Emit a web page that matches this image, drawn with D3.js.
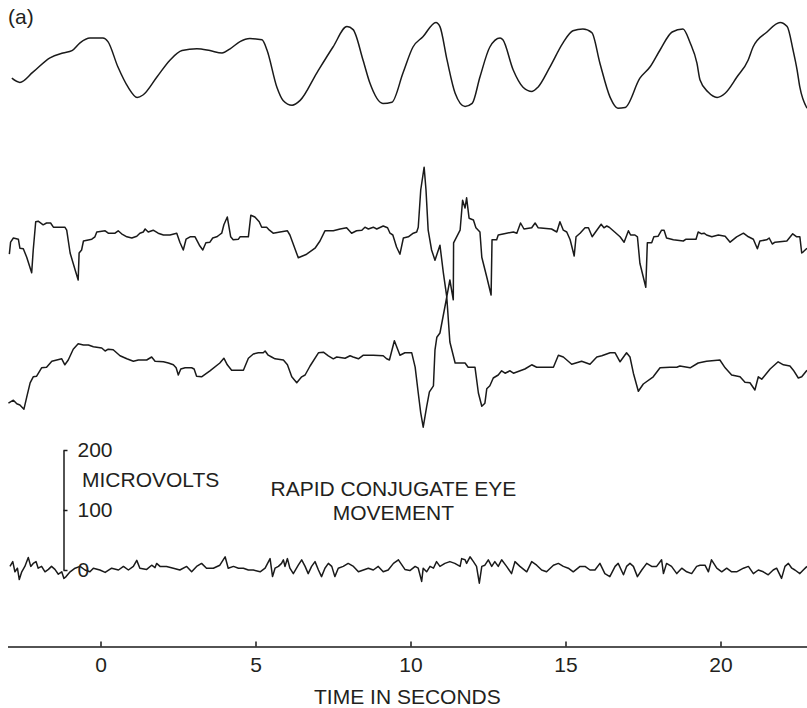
<!DOCTYPE html>
<html>
<head>
<meta charset="utf-8">
<script src="https://cdn.jsdelivr.net/npm/d3@7"></script>
<style>
  body { margin: 0; background: #fff; }
  svg { display: block; font-family: "Liberation Sans", Arial, sans-serif; }
  text { fill: #231f20; }
</style>
</head>
<body>
<div id="chart"></div>
<script>
"use strict";

// Each trace: [time in seconds, microvolts relative to the trace baseline]
const respiration = [
    [-2.86, -22], [-2.60, -29], [-2.18, -12], [-1.63, 12], [-1.21, 20], [-0.92, 24], [-0.66, 37],
    [-0.34, 45], [0.08, 45], [0.24, 39], [0.56, -3], [0.89, -37], [1.18, -54], [1.37, -50],
    [1.82, -20], [2.24, 8], [2.63, 24], [3.11, 27], [3.53, 24], [3.92, 20], [4.18, 27], [4.50, 39],
    [4.82, 44], [5.21, 42], [5.37, 25], [5.69, -37], [5.89, -59], [6.18, -67], [6.44, -59],
    [6.98, -13], [7.50, 30], [7.95, 64], [8.15, 59], [8.47, 8], [8.69, -30], [9.11, -64],
    [9.40, -62], [9.76, -13], [10.08, 30], [10.40, 47], [10.82, 71], [10.95, 64], [11.18, 8],
    [11.44, -47], [11.76, -69], [11.99, -64], [12.24, -20], [12.56, 30], [12.89, 45], [12.98, 42],
    [13.31, -8], [13.63, -37], [13.92, -44], [14.11, -37], [14.50, -3], [14.92, 37], [15.24, 57],
    [15.56, 60], [15.85, 54], [16.11, 3], [16.44, -54], [16.69, -72], [16.92, -71], [17.40, -22],
    [17.73, -3], [18.05, 25], [18.44, 55], [18.79, 60], [19.02, 37], [19.24, 3], [19.34, -25],
    [19.60, -45], [19.89, -54], [20.15, -47], [20.53, -20], [20.89, 8], [21.05, 30], [21.50, 55],
    [21.92, 71], [22.15, 64], [22.34, 25], [22.47, -8], [22.56, -37], [22.79, -72]
];

const eogLeft = [
    [-2.94, -32], [-2.90, -12], [-2.81, -5], [-2.65, -7], [-2.60, -22], [-2.49, -23], [-2.38, -37],
    [-2.22, -63], [-2.17, -25], [-2.09, 22], [-2.01, 23], [-1.85, 17], [-1.74, 20], [-1.61, 20],
    [-1.52, 13], [-1.15, 13], [-1.09, 8], [-0.98, -30], [-0.82, -58], [-0.72, -75], [-0.69, -30],
    [-0.61, -25], [-0.55, -10], [-0.28, -7], [-0.18, -3], [-0.12, 5], [0.15, 7], [0.25, 3],
    [0.47, 3], [0.57, 7], [0.68, 2], [0.85, -3], [1.01, -5], [1.17, -2], [1.27, 3], [1.38, 5],
    [1.44, 10], [1.54, 5], [1.70, 8], [1.86, 3], [2.03, 0], [2.24, 0], [2.46, 3], [2.56, -12],
    [2.67, -25], [2.76, -7], [2.89, -3], [3.05, -3], [3.19, -17], [3.30, -25], [3.40, -13],
    [3.53, -12], [3.62, -5], [3.75, -3], [3.83, 0], [3.91, 3], [3.98, 17], [4.09, 30], [4.20, -3],
    [4.28, -8], [4.45, -7], [4.50, -3], [4.77, -3], [4.85, 33], [4.98, 30], [5.12, 22], [5.20, 13],
    [5.36, 13], [5.45, 8], [5.57, 3], [5.79, 5], [6.03, 7], [6.11, 0], [6.38, -38], [6.65, -32],
    [6.92, -22], [7.08, -10], [7.24, 7], [7.51, 7], [7.73, 10], [7.94, 12], [8.10, 3], [8.26, 7],
    [8.43, 8], [8.53, 13], [8.64, 10], [8.80, 13], [8.91, 10], [9.12, 15], [9.26, 12], [9.34, 3],
    [9.43, 0], [9.55, -20], [9.66, -32], [9.77, -5], [9.93, -3], [10.09, 3], [10.20, 5],
    [10.25, 13], [10.33, 75], [10.44, 113], [10.50, 75], [10.57, 8], [10.68, -25], [10.79, -42],
    [10.95, -17], [11.06, -63], [11.17, -103], [11.27, -75], [11.38, -108], [11.39, -13],
    [11.60, 8], [11.68, 58], [11.76, 45], [11.81, 62], [11.89, 28], [12.03, 25], [12.11, 12],
    [12.24, 5], [12.30, -37], [12.46, -70], [12.60, -100], [12.63, -8], [12.78, -8], [12.83, 0],
    [13.10, 3], [13.32, 5], [13.43, 3], [13.55, 20], [13.66, 10], [13.91, 12], [14.02, 20],
    [14.12, 12], [14.55, 10], [14.72, 5], [14.82, 22], [14.93, 8], [15.04, 5], [15.15, -8],
    [15.28, -35], [15.34, -3], [15.47, 3], [15.63, 12], [15.74, 12], [15.86, -3], [16.01, 8],
    [16.15, 18], [16.24, 12], [16.33, 15], [16.41, 13], [16.54, 7], [16.76, -3], [16.89, -12],
    [17.03, 7], [17.10, 0], [17.24, 0], [17.32, -3], [17.40, -47], [17.59, -87], [17.64, -13],
    [17.78, -13], [17.85, -3], [17.99, -2], [18.10, 8], [18.18, 8], [18.26, -5], [18.48, -8],
    [18.80, -10], [18.89, -7], [19.21, -7], [19.28, 5], [19.39, 2], [19.47, 3], [19.55, 0],
    [19.72, -3], [19.93, 0], [20.15, -2], [20.31, -12], [20.52, -3], [20.74, 3], [20.90, -3],
    [21.06, -7], [21.19, -23], [21.27, -10], [21.49, -8], [21.57, -5], [21.67, -15], [21.76, -12],
    [22.14, -10], [22.33, 2], [22.46, -3], [22.56, -3], [22.62, -30], [22.67, -28], [22.79, -22]
];

const eogRight = [
    [-2.97, -72], [-2.81, -67], [-2.70, -73], [-2.60, -75], [-2.47, -82], [-2.38, -62], [-2.27, -38],
    [-2.17, -28], [-2.06, -27], [-1.90, -13], [-1.74, -12], [-1.57, -2], [-1.41, 0], [-1.25, 2],
    [-1.15, -8], [-1.04, 0], [-0.88, 18], [-0.72, 27], [-0.55, 25], [-0.39, 25], [-0.23, 22],
    [0.04, 20], [0.15, 15], [0.25, 18], [0.41, 17], [0.63, 7], [0.85, 2], [1.06, -2], [1.22, 0],
    [1.49, 0], [1.65, 5], [1.76, -2], [2.03, -3], [2.19, -5], [2.35, -8], [2.44, -13], [2.51, -25],
    [2.59, -15], [2.73, -13], [2.94, -13], [3.02, -15], [3.10, -27], [3.26, -28], [3.53, -18],
    [3.85, -5], [3.98, 3], [4.09, -8], [4.23, -17], [4.61, -17], [4.77, 3], [4.93, 10], [5.09, 12],
    [5.25, 12], [5.31, 15], [5.41, 8], [5.52, 5], [5.63, 2], [5.90, 0], [6.03, -8], [6.17, -28],
    [6.33, -38], [6.49, -28], [6.60, -25], [6.76, -10], [7.03, 12], [7.19, 13], [7.35, 7],
    [7.51, 2], [7.62, 5], [7.89, 3], [8.05, 7], [8.15, 5], [8.32, 2], [8.48, 8], [8.80, 8],
    [9.12, 7], [9.23, 2], [9.32, 0], [9.48, 32], [9.66, 8], [9.82, 12], [10.04, 12], [10.15, -12],
    [10.25, -55], [10.33, -88], [10.41, -112], [10.52, -78], [10.61, -53], [10.74, -43],
    [10.79, 17], [10.85, 38], [10.95, 45], [11.17, 105], [11.27, 30], [11.44, -5], [11.76, -5],
    [11.86, -12], [12.08, -12], [12.19, -55], [12.30, -77], [12.40, -72], [12.46, -48],
    [12.56, -43], [12.67, -30], [12.83, -25], [12.94, -18], [13.05, -22], [13.21, -18],
    [13.32, -22], [13.69, -15], [13.91, -8], [14.07, -12], [14.61, -12], [14.77, 8], [14.93, 5],
    [15.20, -7], [15.52, -2], [15.79, -7], [16.01, 5], [16.17, 7], [16.44, 12], [16.60, 12],
    [16.76, -3], [16.97, 12], [17.08, 5], [17.19, -22], [17.35, -52], [17.51, -40], [17.83, -28],
    [18.05, -13], [18.37, -12], [18.59, -12], [18.69, -10], [19.02, -13], [19.28, -5], [19.55, -2],
    [19.98, 0], [20.15, -13], [20.36, -25], [20.63, -28], [20.79, -37], [20.95, -38], [21.11, -50],
    [21.22, -28], [21.33, -32], [21.60, -15], [21.86, -3], [22.03, -8], [22.24, -10], [22.35, -17],
    [22.51, -30], [22.62, -28], [22.79, -17]
];

const eeg = [
    [-2.92, 6], [-2.83, 14], [-2.76, -3], [-2.68, 3], [-2.62, -16], [-2.54, -3], [-2.44, 6],
    [-2.33, 21], [-2.25, 6], [-2.17, 11], [-2.08, 14], [-2.01, 3], [-1.90, 6], [-1.79, -3],
    [-1.68, 1], [-1.58, 6], [-1.47, 1], [-1.36, -7], [-1.25, -3], [-1.18, -14], [-1.11, -11],
    [-0.98, -3], [-0.82, 3], [-0.66, 6], [-0.50, 0], [-0.34, -3], [-0.23, 3], [-0.02, 0],
    [0.15, -4], [0.36, 3], [0.58, 0], [0.74, 6], [0.90, 0], [1.06, 6], [1.17, 16], [1.27, 3],
    [1.49, 1], [1.65, 8], [1.76, 4], [1.81, 11], [1.92, 6], [2.13, 6], [2.35, 3], [2.56, 0],
    [2.78, 6], [2.94, -3], [3.10, 6], [3.26, 11], [3.42, 3], [3.64, 3], [3.85, 8], [4.02, 22],
    [4.12, 3], [4.29, 6], [4.45, 3], [4.61, 3], [4.77, 0], [4.93, 0], [5.15, -3], [5.31, 3],
    [5.47, 19], [5.55, -11], [5.63, 3], [5.74, 6], [5.84, 11], [5.90, 17], [5.95, 6], [6.03, 19],
    [6.11, 3], [6.22, -6], [6.38, 8], [6.49, 17], [6.60, 6], [6.70, -6], [6.81, 6], [6.92, 14],
    [7.03, 0], [7.13, -11], [7.24, 3], [7.35, 11], [7.46, 6], [7.56, -11], [7.67, 3], [7.83, 6],
    [7.99, 11], [8.16, 6], [8.32, -3], [8.48, 0], [8.64, 3], [8.80, 0], [8.96, 6], [9.12, -3],
    [9.28, 0], [9.45, 11], [9.61, 17], [9.82, 1], [9.98, -1], [10.15, 6], [10.25, 3], [10.36, -19],
    [10.41, 3], [10.52, -3], [10.63, 6], [10.74, 3], [10.84, 14], [10.95, 6], [11.11, 11],
    [11.27, 14], [11.43, 11], [11.60, 6], [11.65, 19], [11.76, 17], [11.81, 11], [11.92, 22],
    [12.03, 14], [12.13, 6], [12.22, -22], [12.30, 6], [12.40, 8], [12.51, 17], [12.62, 6],
    [12.72, 14], [12.83, 6], [12.94, 17], [13.10, 6], [13.26, -6], [13.37, 14], [13.53, 6],
    [13.75, -3], [13.91, 14], [14.07, 8], [14.23, 0], [14.39, -3], [14.61, 8], [14.77, 11],
    [14.93, 6], [15.09, 3], [15.25, -3], [15.47, 6], [15.63, 6], [15.79, 0], [15.95, 0],
    [16.11, 11], [16.27, -6], [16.43, -11], [16.60, 6], [16.70, 11], [16.87, -8], [16.97, 6],
    [17.08, 11], [17.19, 6], [17.32, -11], [17.46, 0], [17.62, 11], [17.78, 6], [17.94, 6],
    [18.10, 17], [18.16, -6], [18.26, 11], [18.42, 6], [18.59, -6], [18.75, 3], [18.91, -3],
    [19.07, -6], [19.23, 6], [19.34, 8], [19.50, 8], [19.61, -3], [19.71, 17], [19.88, 3],
    [20.04, -3], [20.20, 3], [20.36, -3], [20.52, -3], [20.74, 3], [20.90, 6], [21.06, -6],
    [21.22, 0], [21.38, -3], [21.54, -8], [21.70, 0], [21.81, 3], [21.97, -14], [22.08, 6],
    [22.19, 11], [22.30, 3], [22.40, 0], [22.56, -6], [22.67, 0], [22.79, 6]
];

const timeTicks = [0, 5, 10, 15, 20];
const scaleTicks = [0, 100, 200];

const width = 807, height = 708;

let svg = d3.select("#chart").append("svg")
    .attr("width", width)
    .attr("height", height);

// Time scale and amplitude scale (microvolts -> pixel offset, up is negative)
let x = d3.scaleLinear().domain([-3, 23]).range([7.5, 813.5]);
let amp = d3.scaleLinear().domain([0, 200]).range([0, -120]);

// Baseline of each trace, top to bottom
let baselines = [65, 235, 360, 570];
let traces = [respiration, eogLeft, eogRight, eeg];
let curves = [d3.curveMonotoneX, d3.curveLinear, d3.curveLinear, d3.curveLinear];

svg.append("clipPath").attr("id", "clip")
  .append("rect")
    .attr("width", width)
    .attr("height", height);

let traceGroup = svg.append("g").attr("clip-path", "url(#clip)");

traces.forEach(function(series, i) {
    let line = d3.line()
        .x(function(d) { return x(d[0]); })
        .y(function(d) { return baselines[i] + amp(d[1]); })
        .curve(curves[i]);

    traceGroup.append("path")
        .datum(series)
        .attr("d", line)
        .style("fill", "none")
        .style("stroke", "#1a1a1a")
        .style("stroke-width", 1.5)
        .style("stroke-linejoin", "round");
});

// Calibration bar, on the bottom trace's baseline
let sy = d3.scaleLinear().domain([0, 200]).range([baselines[3], baselines[3] + amp(200)]);

let cal = svg.append("g")
    .attr("transform", "translate(63.5,0)")
    .call(d3.axisRight(sy)
        .tickValues(scaleTicks)
        .tickSizeInner(4)
        .tickSizeOuter(0)
        .tickPadding(10));

cal.attr("font-size", 21).attr("font-family", null);
cal.select(".domain").style("stroke", "#1a1a1a").style("stroke-width", 1.5);
cal.selectAll(".tick line").style("stroke", "#1a1a1a").style("stroke-width", 1.5);

svg.append("text")
    .attr("x", 82)
    .attr("y", sy(150) + 7)
    .style("font-size", "21px")
    .text("MICROVOLTS");

svg.append("text")
    .attr("x", x(9.45))
    .attr("y", sy(135) + 7)
    .attr("text-anchor", "middle")
    .style("font-size", "21px")
    .text("RAPID CONJUGATE EYE");

svg.append("text")
    .attr("x", x(9.45))
    .attr("y", sy(95) + 7)
    .attr("text-anchor", "middle")
    .style("font-size", "21px")
    .text("MOVEMENT");

// Time axis
let gx = svg.append("g")
    .attr("transform", "translate(0,646.5)")
    .call(d3.axisBottom(x)
        .tickValues(timeTicks)
        .tickSizeInner(-5)
        .tickSizeOuter(0)
        .tickPadding(11)
        .tickFormat(d3.format("d")));

gx.attr("font-size", 21).attr("font-family", null);
gx.select(".domain").style("stroke", "#1a1a1a").style("stroke-width", 1.5);
gx.selectAll(".tick line").style("stroke", "#1a1a1a").style("stroke-width", 1.5);

svg.append("text")
    .attr("x", x(9.9))
    .attr("y", 704)
    .attr("text-anchor", "middle")
    .style("font-size", "21px")
    .text("TIME IN SECONDS");

svg.append("text")
    .attr("x", 8)
    .attr("y", 24)
    .style("font-size", "21px")
    .text("(a)");
</script>
</body>
</html>
